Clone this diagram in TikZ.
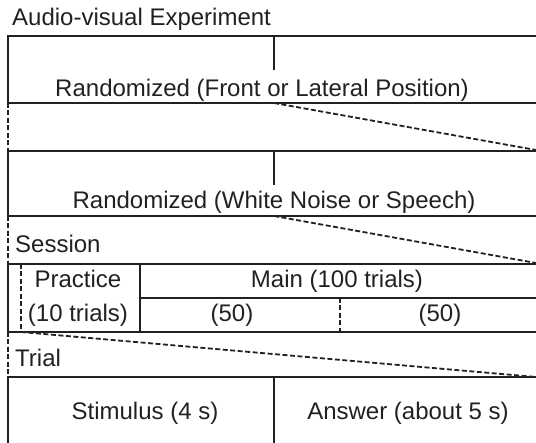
\documentclass[tikz,border=0pt]{standalone}
\usepackage{fontspec}
\setmainfont{Liberation Sans}
\usetikzlibrary{positioning}

\definecolor{ink}{rgb}{0.13,0.13,0.13}

\begin{document}
\begin{tikzpicture}[x=1pt, y=-1pt,
                    box/.style={draw=ink, line width=2pt},
                    zoomline/.style={draw=ink, line width=1.8pt,
                                     dash pattern=on 5pt off 2.5pt},
                    txt/.style={font=\fontsize{24}{28}\selectfont,
                                text=ink, inner sep=0pt},
                   ]
    \useasboundingbox (0,0) rectangle (536,443);
    \clip (0,0) rectangle (536,443);

    % experiment level
    \node[txt, anchor=base west] (exp) at (12,26) {Audio-visual Experiment};
    \draw[box] (8,36) rectangle (545,103);
    \draw[box] (274,36) -- (274,70);
    \node[txt, anchor=base] (pos) at (262,97) {Randomized (Front or Lateral Position)};

    \draw[zoomline] (8,103) -- (8,151);
    \draw[zoomline] (274,103) -- (536,150);

    % condition level
    \draw[box] (8,151) rectangle (545,216);
    \draw[box] (274,151) -- (274,185);
    \node[txt, anchor=base] (noise) at (274,209) {Randomized (White Noise or Speech)};

    \draw[zoomline] (8,216) -- (8,264);
    \draw[zoomline] (274,216) -- (536,263);

    % session level
    \node[txt, anchor=base west] (sess) at (15,253) {Session};
    \draw[box] (8,264) rectangle (545,332);
    \draw[zoomline] (21,264) -- (21,332);
    \draw[box] (140,264) -- (140,332);
    \draw[box] (140,298) -- (545,298);
    \draw[zoomline] (340,298) -- (340,332);
    \node[txt, anchor=base] (prac)  at (78,288) {Practice};
    \node[txt, anchor=base] (prac2) at (78,322) {(10 trials)};
    \node[txt, anchor=base] (main)  at (337,288) {Main (100 trials)};
    \node[txt, anchor=base] (halfa) at (232,322) {(50)};
    \node[txt, anchor=base] (halfb) at (440,322) {(50)};

    \draw[zoomline] (8,332) -- (8,377);
    \draw[zoomline] (21,332) -- (536,377);

    % trial level
    \node[txt, anchor=base west] (trial) at (15,367) {Trial};
    \draw[box] (8,377) rectangle (545,450);
    \draw[box] (274,377) -- (274,450);
    \node[txt, anchor=base] (stim) at (145,420) {Stimulus (4 s)};
    \node[txt, anchor=base] (ans)  at (408,420) {Answer (about 5 s)};
\end{tikzpicture}
\end{document}
